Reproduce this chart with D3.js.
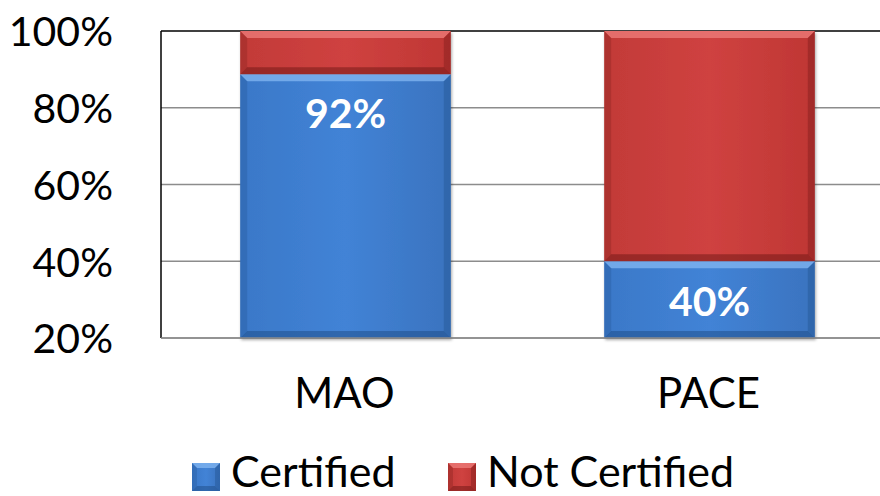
<!DOCTYPE html>
<html><head><meta charset="utf-8">
<script src="https://cdn.jsdelivr.net/npm/d3@7"></script>
<style>body{margin:0;background:#fff}svg{display:block}text{font-family:Lato,"Open Sans",sans-serif}</style>
</head><body><svg id="c" width="880" height="496"></svg>
<script>
const categories = ["MAO", "PACE"];
const certified = [88.7, 40];
const notCertified = [11.3, 60];
const valueLabels = ["92%", "40%"];
const seriesNames = ["Certified", "Not Certified"];
const yTicks = [20, 40, 60, 80, 100];

(function () {
const svg = d3.select("#c");
const pL = 161, pR = 894, pT = 31, pB = 338;
const x = d3.scaleBand().domain(categories).range([pL, pR]).paddingInner(0.4215).paddingOuter(0.2176);
const y = d3.scaleLinear().domain([20, 100]).range([pB, pT]);

const defs = svg.append("defs");
function grad(id, c1, c2, c3) {
  const g = defs.append("linearGradient").attr("id", id).attr("x1", 0).attr("x2", 1).attr("y1", 0).attr("y2", 0);
  g.append("stop").attr("offset", "0").attr("stop-color", c1);
  g.append("stop").attr("offset", "0.5").attr("stop-color", c2);
  g.append("stop").attr("offset", "1").attr("stop-color", c3);
}
grad("gb", "#3a78c8", "#4283d6", "#3a73bf");
grad("gr", "#c23a38", "#cf4240", "#bf3634");
const f = defs.append("filter").attr("id", "sh").attr("x", "-5%").attr("y", "-5%").attr("width", "115%").attr("height", "115%");
f.append("feDropShadow").attr("dx", 1).attr("dy", 2).attr("stdDeviation", 1.5).attr("flood-color", "#000").attr("flood-opacity", 0.35);

svg.append("g").selectAll("line").data(yTicks.filter(t => t < 100)).join("line")
  .attr("x1", pL).attr("x2", 880).attr("y1", d => y(d)).attr("y2", d => y(d))
  .attr("stroke", "#8c8c8c").attr("stroke-width", 1.3);
svg.append("line").attr("x1", pL).attr("x2", 880).attr("y1", y(100)).attr("y2", y(100)).attr("stroke", "#000").attr("stroke-width", 1.5);
svg.append("line").attr("x1", pL).attr("x2", pL).attr("y1", y(100)).attr("y2", y(20)).attr("stroke", "#000").attr("stroke-width", 1.5);

const yAxis = d3.axisLeft(y).tickValues(yTicks).tickFormat(d => d + "%").tickSize(0).tickPadding(48);
const ya = svg.append("g").attr("transform", `translate(${pL},0)`).call(yAxis);
ya.select(".domain").remove();
ya.selectAll("text").attr("font-size", 41).attr("fill", "#000").attr("font-family", "Lato,'Open Sans',sans-serif").attr("dy", "0.36em");

function bevel(g, x0, y0, w, h, light, dark, b) {
  g.append("polygon").attr("points", `${x0},${y0} ${x0+w},${y0} ${x0+w-b},${y0+b} ${x0+b},${y0+b}`).attr("fill", light).attr("opacity", 0.8);
  g.append("polygon").attr("points", `${x0},${y0+h} ${x0+w},${y0+h} ${x0+w-b},${y0+h-b} ${x0+b},${y0+h-b}`).attr("fill", dark).attr("opacity", 0.5);
  g.append("polygon").attr("points", `${x0},${y0} ${x0+b},${y0+b} ${x0+b},${y0+h-b} ${x0},${y0+h}`).attr("fill", dark).attr("opacity", 0.25);
  g.append("polygon").attr("points", `${x0+w},${y0} ${x0+w-b},${y0+b} ${x0+w-b},${y0+h-b} ${x0+w},${y0+h}`).attr("fill", dark).attr("opacity", 0.35);
}

const bars = svg.append("g");
categories.forEach((c, i) => {
  const g = bars.append("g").attr("filter", "url(#sh)");
  const x0 = x(c), w = x.bandwidth();
  const yc = y(certified[i]), yb = y(20);
  const yt = y(certified[i] + notCertified[i]);
  g.append("rect").attr("x", x0).attr("y", yc).attr("width", w).attr("height", yb - yc).attr("fill", "url(#gb)");
  g.append("rect").attr("x", x0).attr("y", yt).attr("width", w).attr("height", yc - yt).attr("fill", "url(#gr)");
  bevel(bars, x0, yc, w, yb - yc, "#7fb4f0", "#1d4c86", 7);
  bevel(bars, x0, yt, w, yc - yt, "#ec7a78", "#6e1614", 7);
});

svg.append("g").selectAll("text").data(categories).join("text")
  .attr("x", d => x(d) + x.bandwidth() / 2)
  .attr("y", (d, i) => i === 0 ? y(certified[i]) + 54 : (y(certified[i]) + y(20)) / 2 + 16)
  .attr("text-anchor", "middle").attr("font-size", 41).attr("font-weight", "bold").attr("fill", "#fff")
  .text((d, i) => valueLabels[i]);

const xa = svg.append("g").attr("transform", `translate(0,${pB})`).call(d3.axisBottom(x).tickSize(0).tickPadding(40));
xa.select(".domain").attr("stroke", "#8c8c8c").attr("stroke-width", 1.3).attr("d", `M${pL},0H880`);
xa.selectAll("text").attr("font-size", 42).attr("fill", "#000").attr("font-family", "Lato,'Open Sans',sans-serif").attr("dy", "0.71em").attr("dx", -1);

const legX = [192, 448];
const legFill = ["url(#gb)", "url(#gr)"];
const lg = svg.append("g");
seriesNames.forEach((s, i) => {
  lg.append("rect").attr("x", legX[i]).attr("y", 463).attr("width", 28).attr("height", 28).attr("fill", legFill[i]);
  bevel(lg, legX[i], 463, 28, 28, i ? "#ec7a78" : "#7fb4f0", i ? "#6e1614" : "#1d4c86", 5);
  lg.append("text").attr("x", legX[i] + 39).attr("y", 487).attr("font-size", 43).attr("fill", "#000").text(s);
});
})();
</script></body></html>
